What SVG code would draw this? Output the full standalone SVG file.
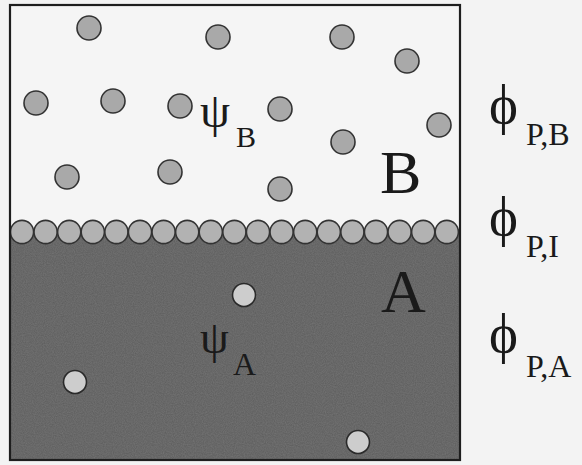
<svg xmlns="http://www.w3.org/2000/svg" width="582" height="465" viewBox="0 0 582 465">
<defs>
<style>
.pb{fill:#a9a9a9;stroke:#333;stroke-width:1.6}
.pi{fill:#b2b2b2;stroke:#333;stroke-width:1.6}
.pa{fill:#cdcdcd;stroke:#2a2a2a;stroke-width:1.6}
.t{font-family:"Liberation Serif","DejaVu Serif",serif;fill:#1a1a1a}
</style>
<filter id="grain" x="0" y="0" width="1" height="1">
<feTurbulence type="fractalNoise" baseFrequency="0.9" numOctaves="2" seed="3" result="n"/>
<feColorMatrix in="n" type="matrix" values="0 0 0 0 0.36 0 0 0 0 0.36 0 0 0 0 0.36 0 0 0 0.35 0" result="g"/>
<feComposite in="g" in2="SourceGraphic" operator="in"/>
</filter>
</defs>
<rect width="582" height="465" fill="#f3f3f3"/>
<g id="phaseB"><rect x="10" y="5" width="450" height="227" fill="#f5f5f5"/></g>
<g id="phaseA"><rect x="10" y="232" width="450" height="228" fill="#5c5c5c"/><rect x="10" y="232" width="450" height="228" fill="#5c5c5c" filter="url(#grain)"/></g>
<g id="interface">
<circle class="pi" cx="22" cy="232" r="11.6"/><circle class="pi" cx="45.6" cy="232" r="11.6"/><circle class="pi" cx="69.2" cy="232" r="11.6"/><circle class="pi" cx="92.8" cy="232" r="11.6"/><circle class="pi" cx="116.4" cy="232" r="11.6"/><circle class="pi" cx="140" cy="232" r="11.6"/><circle class="pi" cx="163.6" cy="232" r="11.6"/><circle class="pi" cx="187.2" cy="232" r="11.6"/><circle class="pi" cx="210.8" cy="232" r="11.6"/><circle class="pi" cx="234.4" cy="232" r="11.6"/><circle class="pi" cx="258" cy="232" r="11.6"/><circle class="pi" cx="281.6" cy="232" r="11.6"/><circle class="pi" cx="305.2" cy="232" r="11.6"/><circle class="pi" cx="328.8" cy="232" r="11.6"/><circle class="pi" cx="352.4" cy="232" r="11.6"/><circle class="pi" cx="376" cy="232" r="11.6"/><circle class="pi" cx="399.6" cy="232" r="11.6"/><circle class="pi" cx="423.2" cy="232" r="11.6"/><circle class="pi" cx="446.8" cy="232" r="11.6"/>
</g>
<g id="particlesB">
<circle class="pb" cx="89" cy="28" r="12"/><circle class="pb" cx="218" cy="37" r="12"/><circle class="pb" cx="342" cy="37" r="12"/><circle class="pb" cx="407" cy="61" r="12"/>
<circle class="pb" cx="36" cy="103" r="12"/><circle class="pb" cx="113" cy="101" r="12"/><circle class="pb" cx="180" cy="106" r="12"/><circle class="pb" cx="280" cy="109" r="12"/><circle class="pb" cx="439" cy="125" r="12"/>
<circle class="pb" cx="343" cy="142" r="12"/><circle class="pb" cx="67" cy="177" r="12"/><circle class="pb" cx="170" cy="172" r="12"/><circle class="pb" cx="280" cy="189" r="12"/>
</g>
<g id="particlesA">
<circle class="pa" cx="244" cy="295" r="11.5"/><circle class="pa" cx="75" cy="382" r="11.5"/><circle class="pa" cx="358" cy="442" r="11.5"/>
</g>
<g id="border"><rect x="10" y="5" width="450" height="455" fill="none" stroke="#1e1e1e" stroke-width="2.2"/></g>
<g id="labels">
<text class="t" x="200" y="127" font-size="48">ψ<tspan x="236" y="147" font-size="30">B</tspan></text>
<text class="t" x="380" y="193" font-size="62">B</text>
<text class="t" x="381" y="312" font-size="62">A</text>
<text class="t" x="200" y="353" font-size="46">ψ<tspan x="233" y="375" font-size="32">A</tspan></text>
<text class="t" x="489" y="123" font-size="55">ϕ<tspan x="526" y="145" font-size="32">P,B</tspan></text>
<text class="t" x="489" y="235" font-size="55">ϕ<tspan x="526" y="257" font-size="32">P,I</tspan></text>
<text class="t" x="489" y="352" font-size="55">ϕ<tspan x="526" y="377" font-size="32">P,A</tspan></text>
</g>
</svg>
